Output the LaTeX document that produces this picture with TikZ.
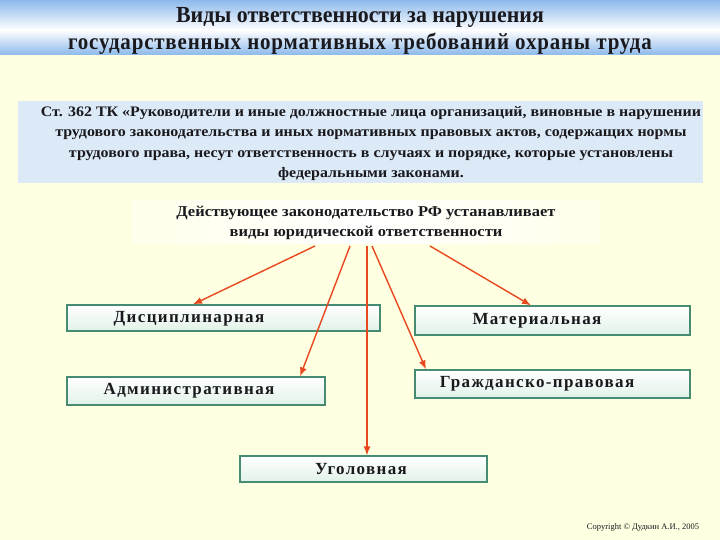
\documentclass[tikz,border=0pt]{standalone}
\usepackage{fontspec}
\setmainfont{Liberation Serif}
\usetikzlibrary{arrows.meta}
\definecolor{bgc}{RGB}{255,255,226}
\definecolor{hdrblue}{RGB}{140,185,235}
\definecolor{box1c}{RGB}{220,233,246}
\definecolor{arrc}{RGB}{232,72,30}
\definecolor{grn}{RGB}{70,140,115}
\definecolor{grnf}{RGB}{225,242,232}
\definecolor{txt}{RGB}{25,25,30}
\tikzset{
  kind/.style={draw=grn, line width=1.2pt, top color=white, bottom color=grnf, inner sep=0pt},
  kindtxt/.style={font=\bfseries\fontsize{17}{20}\selectfont\addfontfeatures{LetterSpace=8}, text=txt, inner sep=0pt},
  arr/.style={draw=arrc, line width=1.4pt, -{Latex[length=9pt,width=7pt]}},
}
\begin{document}
\begin{tikzpicture}[x=1pt,y=-1pt]
\useasboundingbox (0,0) rectangle (720,540);
\fill[bgc] (0,0) rectangle (720,540);
% header
\shade[top color=hdrblue, bottom color=white] (0,0) rectangle (720,30);
\shade[top color=white, bottom color=hdrblue] (0,30) rectangle (720,55);
\node[font=\bfseries\fontsize{23}{26}\selectfont, text=txt, xscale=0.95] (t1) at (360,17) {Виды ответственности за нарушения};
\node[font=\bfseries\fontsize{23}{26}\selectfont\addfontfeatures{LetterSpace=4}, text=txt, xscale=0.91] (t2) at (360,44) {государственных нормативных требований охраны труда};
% article box
\node[fill=box1c, minimum width=685pt, minimum height=82pt, inner sep=0pt] (art) at (360.5,142) {};
\node[font=\bfseries\fontsize{14.5}{20.5}\selectfont, text=txt, align=center, xscale=1.1] (artt) at (371,143.5)
{Ст. 362 ТК «Руководители и иные должностные лица организаций, виновные в нарушении\\
трудового законодательства и иных нормативных правовых актов, содержащих нормы\\
трудового права, несут ответственность в случаях и порядке, которые установлены\\
федеральными законами.};
% law box
\node[left color=bgc!70!white, right color=bgc!70!white, middle color=white, minimum width=468pt, minimum height=43pt, inner sep=0pt] (law) at (366,222) {};
\node[font=\bfseries\fontsize{15}{20}\selectfont, text=txt, align=center, xscale=1.1] (lawt) at (366,223)
{Действующее законодательство РФ устанавливает\\ виды юридической ответственности};
% kinds
\node[kind, minimum width=313pt, minimum height=26pt] (disc) at (223.5,318) {};
\node[kindtxt] (disct) at (189,319) {Дисциплинарная};
\node[kind, minimum width=275pt, minimum height=29pt] (mat) at (552.5,320.5) {};
\node[kindtxt] (matt) at (537,321) {Материальная};
\node[kind, minimum width=258pt, minimum height=28pt] (adm) at (196,391) {};
\node[kindtxt] (admt) at (189,391) {Административная};
\node[kind, minimum width=275pt, minimum height=28pt] (civ) at (552.5,384) {};
\node[kindtxt] (civt) at (537,384) {Гражданско-правовая};
\node[kind, minimum width=247pt, minimum height=26pt] (crim) at (363.5,469) {};
\node[kindtxt] (crimt) at (361,469) {Уголовная};
% arrows
\coordinate (s1) at (315,246);
\coordinate (s2) at (350,246);
\coordinate (s3) at (367,246);
\coordinate (s4) at (372,246);
\coordinate (s5) at (430,246);
\draw[arr] (s1) -- (disc.north -| 193,0);
\draw[arr] (s2) -- (adm.north -| 300,0);
\draw[arr] (s3) -- (crim.north -| 367,0);
\draw[arr] (s4) -- (civ.north -| 426,0);
\draw[arr] (s5) -- (mat.north -| 531,0);
% copyright
\node[font=\fontsize{8.5}{10}\selectfont, text=txt] (copy) at (643,527) {Copyright © Дудкин А.И., 2005};
\end{tikzpicture}
\end{document}
